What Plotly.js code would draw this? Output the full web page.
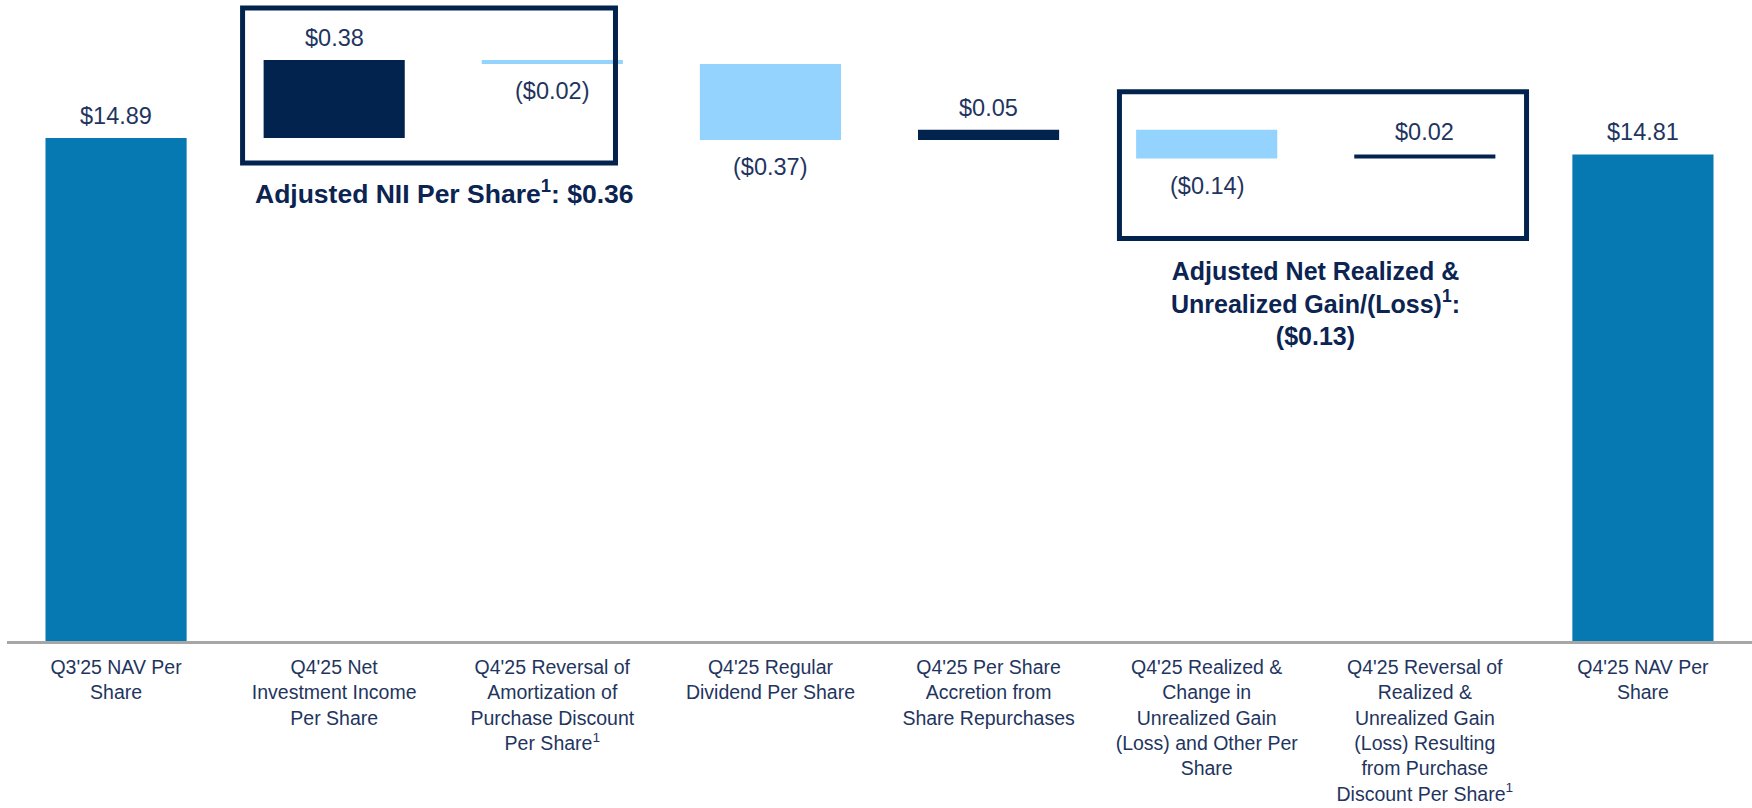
<!DOCTYPE html>
<html>
<head>
<meta charset="utf-8">
<script src="https://cdn.plot.ly/plotly-3.0.1.min.js"></script>
<style>
  html, body { margin: 0; padding: 0; background: #ffffff; }
  #chart { width: 1752px; height: 808px; }
</style>
</head>
<body>
<div id="chart"></div>
<script>
// ---- Data ----
const categories = [
  "Q3'25 NAV Per<br>Share",
  "Q4'25 Net<br>Investment Income<br>Per Share",
  "Q4'25 Reversal of<br>Amortization of<br>Purchase Discount<br>Per Share<sup>1</sup>",
  "Q4'25 Regular<br>Dividend Per Share",
  "Q4'25 Per Share<br>Accretion from<br>Share Repurchases",
  "Q4'25 Realized &<br>Change in<br>Unrealized Gain<br>(Loss) and Other Per<br>Share",
  "Q4'25 Reversal of<br>Realized &<br>Unrealized Gain<br>(Loss) Resulting<br>from Purchase<br>Discount Per Share<sup>1</sup>",
  "Q4'25 NAV Per<br>Share"
];
const measures = ["absolute", "relative", "relative", "relative", "relative", "relative", "relative", "total"];
const values = [14.89, 0.38, -0.02, -0.37, 0.05, -0.14, 0.02, 14.81];

const groupTitles = [
  "Adjusted NII Per Share<sup>1</sup>: $0.36",
  "Adjusted Net Realized &<br>Unrealized Gain/(Loss)<sup>1</sup>:<br>($0.13)"
];

// ---- Styling ----
const FONT = "Liberation Sans, Arial, Helvetica, sans-serif";
const TEXT_COLOR = "#1f3560";
const NAVY = "#02234e";
const LIGHT = "#94d3fe";
const TOTAL = "#0779b2";

function fmt(v) {
  return v < 0 ? "($" + Math.abs(v).toFixed(2) + ")" : "$" + v.toFixed(2);
}

// value labels placed at bar ends, computed from the running total
const annotations = [];
let cum = 0;
for (let i = 0; i < values.length; i++) {
  let start, end, shown;
  if (measures[i] === "absolute") { start = 0; end = values[i]; cum = end; shown = values[i]; }
  else if (measures[i] === "total") { start = 0; end = cum; shown = cum; }
  else { start = cum; end = cum + values[i]; cum = end; shown = values[i]; }
  const neg = shown < 0;
  annotations.push({
    x: categories[i], y: neg ? Math.min(start, end) : Math.max(start, end),
    xref: "x", yref: "y",
    text: fmt(shown), showarrow: false,
    yanchor: "middle", yshift: neg ? -27 : 22,
    font: { family: FONT, size: 23.5, color: TEXT_COLOR }
  });
}

// group titles
annotations.push({
  xref: "paper", yref: "paper", x: 0.251, y: 0.7005,
  text: groupTitles[0], showarrow: false, xanchor: "center", yanchor: "middle",
  font: { family: FONT, size: 26.5, color: "#0b2451", weight: "bold" }
});
annotations.push({
  xref: "paper", yref: "paper", x: 0.7501, y: 0.527,
  text: groupTitles[1], showarrow: false, xanchor: "center", yanchor: "middle", align: "center",
  font: { family: FONT, size: 25, color: "#0b2451", weight: "bold" }
});

const shapes = [
  { type: "rect", xref: "paper", yref: "paper", x0: 0.135, x1: 0.3487, y0: 0.7457, y1: 0.9875,
    line: { color: NAVY, width: 5 }, fillcolor: "rgba(0,0,0,0)" },
  { type: "rect", xref: "paper", yref: "paper", x0: 0.6375, x1: 0.8708, y0: 0.628, y1: 0.857,
    line: { color: NAVY, width: 5 }, fillcolor: "rgba(0,0,0,0)" }
];

const trace = {
  type: "waterfall",
  x: categories,
  y: values,
  measure: measures,
  textinfo: "none",
  hoverinfo: "none",
  connector: { visible: false },
  increasing: { marker: { color: NAVY } },
  decreasing: { marker: { color: LIGHT } },
  totals: { marker: { color: TOTAL } }
};

const layout = {
  width: 1752, height: 808,
  margin: { l: 7, r: 0, t: 0, b: 167 },
  paper_bgcolor: "#ffffff", plot_bgcolor: "#ffffff",
  showlegend: false,
  waterfallgap: 0.353,
  font: { family: FONT, color: TEXT_COLOR },
  xaxis: {
    type: "category",
    showline: true, linecolor: "#a6a6a6", linewidth: 2.5,
    ticks: "", showgrid: false, zeroline: false,
    tickfont: { family: FONT, size: 19.5, color: TEXT_COLOR },
    ticklabelstandoff: 7,
    tickangle: 0,
    fixedrange: true
  },
  yaxis: {
    range: [12.44, 15.562],
    visible: false, showgrid: false, zeroline: false, fixedrange: true
  },
  annotations: annotations,
  shapes: shapes
};

Plotly.newPlot("chart", [trace], layout, { displayModeBar: false, staticPlot: true });
</script>
</body>
</html>
